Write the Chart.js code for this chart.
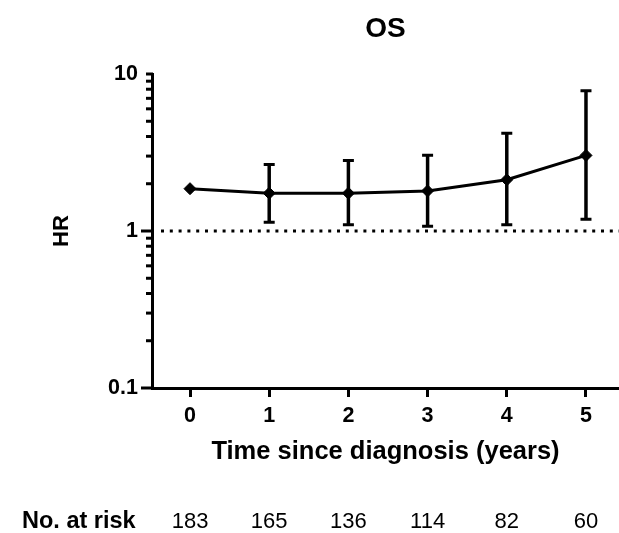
<!DOCTYPE html>
<html>
<head>
<meta charset="utf-8">
<script src="https://cdn.jsdelivr.net/npm/chart.js@4/dist/chart.umd.min.js"></script>
<style>
  body { margin: 0; background: #fff; }
  #wrap { width: 619px; height: 533px; }
</style>
</head>
<body>
<div id="wrap"><canvas id="hrChart"></canvas></div>
<script>
var years = [0, 1, 2, 3, 4, 5];
var xLabels = ["0", "1", "2", "3", "4", "5"];
var hr = [1.86, 1.74, 1.74, 1.80, 2.12, 3.03];
var ciLow = [null, 1.136, 1.098, 1.071, 1.098, 1.19];
var ciHigh = [null, 2.65, 2.81, 3.04, 4.19, 7.83];
var atRisk = [183, 165, 136, 114, 82, 60];
var yTickLabels = [0.1, 1, 10];
var refLine = 1;

var fontFam = "'Liberation Sans', Arial, sans-serif";
Chart.defaults.color = "#000";
Chart.defaults.font.family = fontFam;

var extras = {
  id: "extras",
  beforeDatasetsDraw: function(chart) {
    var ctx = chart.ctx;
    var xs = chart.scales.x, ys = chart.scales.y;
    var area = chart.chartArea;
    ctx.save();
    // dotted line at HR = 1
    ctx.strokeStyle = "#000";
    ctx.lineWidth = 3;
    ctx.setLineDash([3, 5.8]);
    var yr = ys.getPixelForValue(refLine);
    ctx.beginPath();
    ctx.moveTo(area.left + 9, yr);
    ctx.lineTo(area.right, yr);
    ctx.stroke();
    ctx.setLineDash([]);
    // error bars
    for (var i = 0; i < years.length; i++) {
      if (ciLow[i] == null) continue;
      var x = xs.getPixelForValue(years[i]);
      var yl = ys.getPixelForValue(ciLow[i]);
      var yh = ys.getPixelForValue(ciHigh[i]);
      ctx.lineWidth = 3.5;
      ctx.beginPath();
      ctx.moveTo(x, yl); ctx.lineTo(x, yh);
      ctx.stroke();
      ctx.lineWidth = 3;
      ctx.beginPath();
      ctx.moveTo(x - 5.5, yl); ctx.lineTo(x + 5.5, yl);
      ctx.moveTo(x - 5.5, yh); ctx.lineTo(x + 5.5, yh);
      ctx.stroke();
    }
    ctx.restore();
  },
  afterDraw: function(chart) {
    var ctx = chart.ctx;
    var xs = chart.scales.x, ys = chart.scales.y;
    var left = chart.chartArea.left;
    ctx.save();
    // y ticks, long for decades, short for the rest
    ctx.strokeStyle = "#000";
    ctx.lineWidth = 3;
    ys.ticks.forEach(function(t) {
      var y = ys.getPixelForValue(t.value);
      var major = Math.abs(Math.log10(t.value) - Math.round(Math.log10(t.value))) < 1e-6;
      var len = (major && t.value < 10) ? 11 : 6;
      ctx.beginPath();
      ctx.moveTo(left - len, y);
      ctx.lineTo(left + 1, y);
      ctx.stroke();
    });
    // number at risk row
    ctx.fillStyle = "#000";
    ctx.textBaseline = "middle";
    ctx.textAlign = "left";
    ctx.font = "bold 23.5px " + fontFam;
    ctx.fillText("No. at risk", 22, 522);
    ctx.textAlign = "center";
    ctx.font = "22px " + fontFam;
    for (var i = 0; i < years.length; i++) {
      ctx.fillText(String(atRisk[i]), xs.getPixelForValue(years[i]), 522);
    }
    ctx.restore();
  }
};

var chart = new Chart("hrChart", {
  type: "line",
  data: {
    datasets: [{
      label: "HR",
      data: years.map(function(y, i) { return {x: y, y: hr[i]}; }),
      borderColor: "#000",
      backgroundColor: "#000",
      borderWidth: 3,
      tension: 0,
      pointStyle: "rectRot",
      pointRadius: 6,
      pointBorderWidth: 1,
      fill: false
    }]
  },
  options: {
    responsive: true,
    maintainAspectRatio: false,
    animation: false,
    layout: { padding: 0, autoPadding: false },
    plugins: {
      legend: { display: false },
      tooltip: { enabled: false },
      title: {
        display: true,
        text: "OS",
        fullSize: false,
        font: { size: 28, weight: "bold" },
        padding: { top: 12, bottom: 28.4 }
      }
    },
    scales: {
      x: {
        type: "linear",
        min: -0.48,
        max: 5.417,
        afterBuildTicks: function(scale) {
          scale.ticks = years.map(function(v) { return {value: v}; });
        },
        afterFit: function(scale) {
          scale.height = 145;
          scale.paddingLeft = 0;
          scale.paddingRight = 0;
        },
        grid: { drawOnChartArea: false, tickLength: 9, tickWidth: 3, tickColor: "#000" },
        border: { display: true, color: "#000", width: 3 },
        ticks: {
          padding: 6,
          maxRotation: 0,
          font: { size: 21.5, weight: "bold" },
          callback: function(value, index) { return xLabels[index]; }
        },
        title: {
          display: true,
          text: "Time since diagnosis (years)",
          font: { size: 25.5, weight: "bold" },
          padding: { bottom: 66 }
        }
      },
      y: {
        type: "logarithmic",
        min: 0.1,
        max: 10,
        afterBuildTicks: function(scale) {
          var t = [];
          for (var d = -1; d <= 0; d++) {
            for (var m = 1; m <= 9; m++) {
              t.push({value: Number((m * Math.pow(10, d)).toFixed(3))});
            }
          }
          t.push({value: 10});
          scale.ticks = t;
        },
        afterFit: function(scale) {
          scale.width = 152;
          scale.paddingTop = 0;
          scale.paddingBottom = 0;
        },
        grid: { drawOnChartArea: false, tickLength: 10, tickColor: "rgba(0,0,0,0)" },
        border: { display: true, color: "#000", width: 3 },
        ticks: {
          padding: 4,
          autoSkip: false,
          font: { size: 21.5, weight: "bold" },
          callback: function(value) {
            return yTickLabels.indexOf(value) >= 0 ? String(value) : "";
          }
        },
        title: {
          display: true,
          text: "HR",
          font: { size: 22, weight: "bold" },
          padding: { top: 49 }
        }
      }
    }
  },
  plugins: [extras]
});
</script>
</body>
</html>
